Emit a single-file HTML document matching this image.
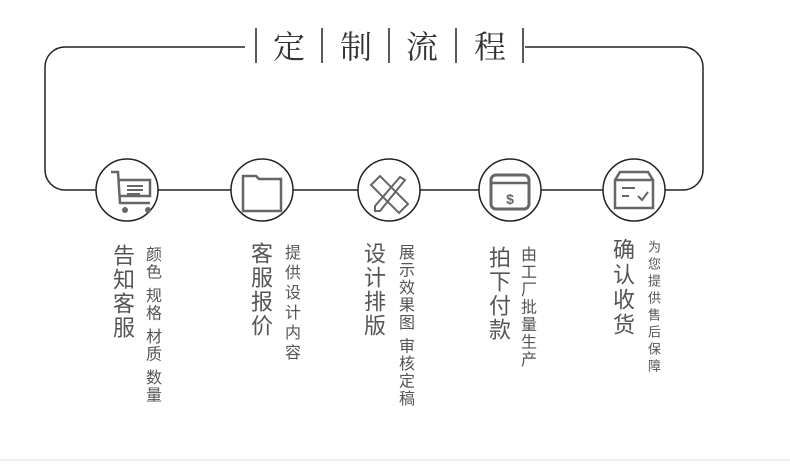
<!DOCTYPE html><html><head><meta charset="utf-8"><style>
body{margin:0;width:790px;height:464px;background:#fff;position:relative;overflow:hidden;font-family:"Liberation Sans","Noto Sans CJK SC",sans-serif}
.v{position:absolute;writing-mode:vertical-rl;color:#555;white-space:pre}
.b{font-size:22px;letter-spacing:2px}
.s{font-size:16px;letter-spacing:1.5px}
</style></head><body>
<svg width="790" height="464" style="position:absolute;left:0;top:0">
<rect x="45" y="47" width="658" height="143" rx="20" fill="none" stroke="#222" stroke-width="1.5"/>
<rect x="245" y="25" width="280" height="40" fill="#fff"/>
<g stroke="#222" stroke-width="1.5">
<line x1="256" y1="28" x2="256" y2="63"/><line x1="322" y1="28" x2="322" y2="63"/><line x1="389" y1="28" x2="389" y2="63"/><line x1="456" y1="28" x2="456" y2="63"/><line x1="523" y1="28" x2="523" y2="63"/>
</g>
<g fill="#fff" stroke="#222" stroke-width="1.5">
<circle cx="127" cy="190" r="31"/><circle cx="262" cy="190" r="31"/><circle cx="389" cy="190" r="31"/><circle cx="510" cy="190" r="31"/><circle cx="634" cy="190" r="31"/>
</g>
<g fill="none" stroke="#666" stroke-width="2.5">
<path d="M111 172 L118 172 L120 203 L150 203"/><path d="M119 180 H150 V196 H120"/><path d="M127 186 H143 M127 190 H143 M127 194 H140" stroke-width="2"/>
<path d="M243 176 H256 L259 179 H281 V211 H243 Z"/>
<path d="M371 185 L380 176 L408 204 L399 213 Z" stroke-width="2"/><path d="M405 180 L380 211 L375 211 L375 206 L400 177 Z" stroke-width="2"/>
<rect x="491" y="175" width="38" height="34" rx="5" stroke-width="3"/><line x1="491" y1="183" x2="529" y2="183"/>
<path d="M615 180 L620 172 H648 L653 180 V208 H615 Z M615 180 H653" stroke-width="2.5"/><path d="M622 188 H635 M622 196 H629 M638 196 L642 200 L648 192" stroke-width="2"/>
</g>
<circle cx="125" cy="210" r="3" fill="#666"/><circle cx="148" cy="210" r="3" fill="#666"/>
<text x="510" y="204" font-size="14" font-weight="bold" fill="#666" text-anchor="middle" font-family="Liberation Sans">$</text>
<g style="font-family:'Noto Serif CJK SC','Liberation Serif',serif" font-size="32" fill="#333" text-anchor="middle">
<text x="289" y="58">定</text><text x="356" y="58">制</text><text x="422" y="58">流</text><text x="490" y="58">程</text>
</g>
<line x1="0" y1="460" x2="790" y2="460" stroke="#ddd"/>
</svg>
<div class="v b" style="left:106px;top:244px">告知客服</div>
<div class="v s" style="left:139px;top:246px">颜色 规格 材质 数量</div>
<div class="v b" style="left:244px;top:242px">客服报价</div>
<div class="v s" style="left:278px;top:244px;letter-spacing:4px">提供设计内容</div>
<div class="v b" style="left:357px;top:242px">设计排版</div>
<div class="v s" style="left:392px;top:244px">展示效果图 审核定稿</div>
<div class="v b" style="left:482px;top:246px">拍下付款</div>
<div class="v s" style="left:514px;top:246px">由工厂批量生产</div>
<div class="v b" style="left:606px;top:238px;letter-spacing:3px">确认收货</div>
<div class="v s" style="left:644px;top:240px;font-size:13px;letter-spacing:4px">为您提供售后保障</div>
</body></html>
